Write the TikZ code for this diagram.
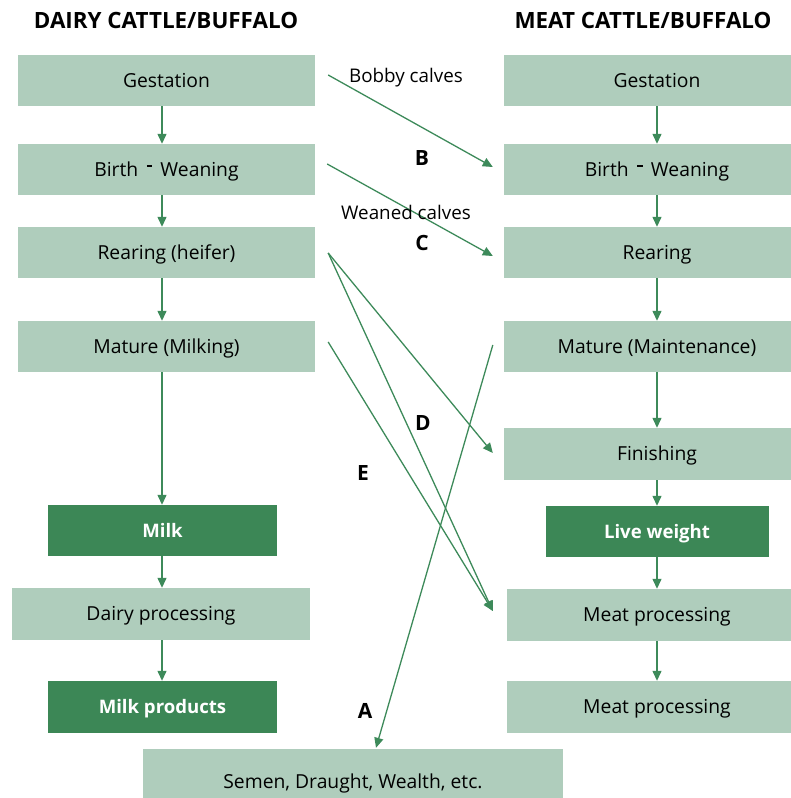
\documentclass[tikz,border=0pt]{standalone}
\usepackage{fontspec}
\setmainfont{Open Sans}
\usetikzlibrary{arrows.meta}
\definecolor{boxgreen}{HTML}{AFCDBC}
\definecolor{deepgreen}{HTML}{3C8756}
\definecolor{linegreen}{HTML}{3D8A5A}
% short raised dash between "Birth" and "Weaning"
\newcommand{\birthdash}{\hspace{0.45em}\raisebox{0.5em}{\rule{0.28em}{0.09em}}\hspace{0.42em}}
\begin{document}
\begin{tikzpicture}[x=1pt,y=-1pt,
  box/.style={fill=boxgreen, draw=none, inner sep=0pt, text=black,
    font=\fontsize{19.3}{23}\selectfont, text height=16pt, text depth=2.2pt},
  darkbox/.style={box, fill=deepgreen, text=white,
    font=\fontsize{18.6}{22}\selectfont\bfseries},
  flow/.style={draw=linegreen, line width=1.3pt, -{Triangle[length=10pt,width=9pt]}},
  heading/.style={font=\fontsize{22.4}{26}\selectfont\bfseries, inner sep=0pt},
  tag/.style={font=\fontsize{21}{24}\selectfont\bfseries, inner sep=0pt},
  note/.style={font=\fontsize{18.8}{22}\selectfont, inner sep=0pt,
    text height=13.4pt, text depth=0pt}
]
\useasboundingbox (0,0) rectangle (790,798);

% column headings
\node[heading] (hdairy) at (166,20.5) {DAIRY CATTLE/BUFFALO};
\node[heading] (hmeat)  at (643,20.5) {MEAT CATTLE/BUFFALO};

% dairy column
\node[box, minimum width=297pt, minimum height=51pt] (lgest)  at (166.5,80.5)  {Gestation};
\node[box, minimum width=297pt, minimum height=51pt] (lbirth) at (166.5,169.5) {Birth\birthdash Weaning};
\node[box, minimum width=297pt, minimum height=51pt] (lrear)  at (166.5,252.5) {Rearing (heifer)};
\node[box, minimum width=297pt, minimum height=51pt] (lmat)   at (166.5,346.5) {Mature (Milking)};
\node[darkbox, minimum width=229pt, minimum height=51pt] (milk) at (162.5,530.5) {Milk};
\node[box, minimum width=298pt, minimum height=52pt] (dairy)  at (161,614)     {Dairy processing};
\node[darkbox, minimum width=229pt, minimum height=52pt] (mprod) at (162.5,707) {Milk products};
\node[box, minimum width=420pt, minimum height=66pt] (semen)  at (353,782)     {Semen, Draught, Wealth, etc.};

% meat column
\node[box, minimum width=306pt, minimum height=51pt] (rgest)  at (657,80.5)  {Gestation};
\node[box, minimum width=306pt, minimum height=51pt] (rbirth) at (657,169.5) {Birth\birthdash Weaning};
\node[box, minimum width=306pt, minimum height=51pt] (rrear)  at (657,252.5) {Rearing};
\node[box, minimum width=306pt, minimum height=51pt] (rmat)   at (657,346.5) {Mature (Maintenance)};
\node[box, minimum width=306pt, minimum height=52pt] (rfin)   at (657,454)   {Finishing};
\node[darkbox, minimum width=223pt, minimum height=51pt] (live) at (657,531.5) {Live weight};
\node[box, minimum width=300pt, minimum height=52pt] (rmeat)  at (657,615)   {Meat processing};
\node[box, minimum width=300pt, minimum height=52pt] (rmeatb) at (657,707)   {Meat processing};

% flow down the dairy column
\coordinate (lx) at (162,0);
\draw[flow] (lgest.south -| lx)  -- (lbirth.north -| lx);
\draw[flow] (lbirth.south -| lx) -- (lrear.north -| lx);
\draw[flow] (lrear.south -| lx)  -- (lmat.north -| lx);
\draw[flow] (lmat.south -| lx)   -- (milk.north -| lx);
\draw[flow] (milk.south -| lx)   -- (dairy.north -| lx);
\draw[flow] (dairy.south -| lx)  -- (mprod.north -| lx);

% flow down the meat column
\draw[flow] (rgest) -- (rbirth);
\draw[flow] (rbirth) -- (rrear);
\draw[flow] (rrear) -- (rmat);
\draw[flow] (rmat) -- (rfin);
\draw[flow] (rfin) -- (live);
\draw[flow] (live) -- (rmeat);
\draw[flow] (rmeat) -- (rmeatb);

% transfers between the two systems
\draw[flow] ([xshift=13pt,yshift=5.5pt]lgest.east)  -- ([xshift=-11pt,yshift=2.5pt]rbirth.west);
\draw[flow] ([xshift=12pt,yshift=5.5pt]lbirth.east) -- ([xshift=-11pt,yshift=-3.5pt]rrear.west);
\draw[flow] ([xshift=13pt,yshift=-0.5pt]lrear.east) -- ([xshift=-11pt,yshift=1pt]rfin.west);
\draw[flow] ([xshift=13pt,yshift=-0.5pt]lrear.east) -- ([xshift=-14pt,yshift=4pt]rmeat.west);
\draw[flow] ([xshift=13pt,yshift=4.5pt]lmat.east)   -- ([xshift=-14pt,yshift=4pt]rmeat.west);
\draw[flow] ([xshift=-11pt,yshift=1.5pt]rmat.west)  -- ([xshift=23pt,yshift=1pt]semen.north);

% labels on the transfers
\node[note] (lbobby)  at (406,76)    {Bobby calves};
\node[note] (lweaned) at (406,212.5) {Weaned calves};
\node[tag] (ta) at (365,711) {A};
\node[tag] (tb) at (422,158) {B};
\node[tag] (tc) at (422,243) {C};
\node[tag] (td) at (423,423) {D};
\node[tag] (te) at (363,473) {E};
\end{tikzpicture}
\end{document}
